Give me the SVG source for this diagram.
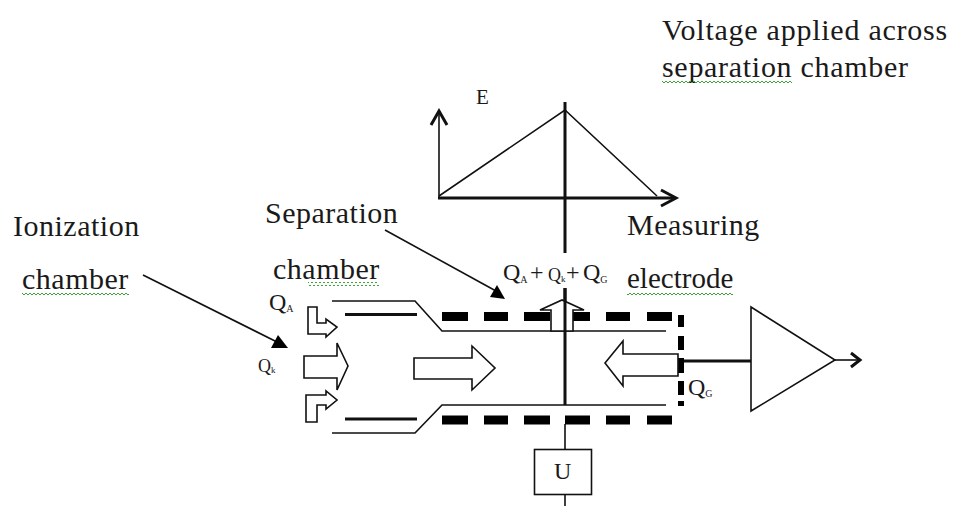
<svg xmlns="http://www.w3.org/2000/svg" width="955" height="506" viewBox="0 0 955 506">
<style>
text{font-family:"Liberation Serif","Times New Roman",serif;fill:#1a1a1a}
.t{font-size:30px;letter-spacing:.5px}
.l{fill:none;stroke:#111;stroke-width:1.6}
.m{fill:none;stroke:#111;stroke-width:3}
.d{fill:none;stroke:#000;stroke-width:9}
.a{fill:#fff;stroke:#111;stroke-width:1.6}
.q{font-size:24px}
.s{font-size:10px}
</style>
<defs>
<pattern id="sq" width="4" height="4" patternUnits="userSpaceOnUse"><path d="M0 3L2 1L4 3" fill="none" stroke="#3aa53a" stroke-width="1"/></pattern>
</defs>
<rect width="955" height="506" fill="#fff"/>
<g id="connectors">
<path class="m" d="M565 102V253M565 288V405"/>
<path class="l" d="M565 424V449M565 494V506"/>
<path class="l" d="M143 275L277 342"/>
<polygon points="278,335 271,348 288,348" fill="#000"/>
<path class="l" d="M385 230L496 291"/>
<polygon points="505,299 490,297 497,285" fill="#000"/>
<path class="m" d="M680 361H752"/>
<path class="l" d="M835 360H860"/>
<path class="m" d="M851 353L860 360L851 367" fill="none"/>
</g>
<g id="chart">
<path class="l" d="M439 197V111"/>
<path class="m" d="M431 125L439 111L447 125"/>
<path class="m" d="M438 198H674"/>
<path class="m" d="M661 190L676 198L661 206"/>
<path class="l" d="M439 196L565 110L657 196"/>
</g>
<g id="ionization-chamber">
<path class="l" d="M332 301H415L442 331H666"/>
<path class="l" d="M332 433H415L442 405H666"/>
<path class="m" d="M345 314.500H417M345 419H417"/>
</g>
<g id="separation-electrodes">
<path class="d" d="M442 316.500H468M484 316.500H508M524 316.500H550M565 316.500H590M606 316.500H630M647 316.500H672"/>
<path class="d" d="M442 420H468M484 420H508M524 420H550M565 420H590M606 420H630M647 420H672"/>
<path d="M681 315V327M681 336V350M681 358V373M681 381V395M681 401V406" fill="none" stroke="#000" stroke-width="6"/>
</g>
<g id="ion-arrows">
<polygon class="a" points="308,307 317,307 317,323 326,323 326,319 337,327 326,337 326,334 308,334"/>
<polygon class="a" points="304,356 337,356 337,343 348,366 337,390 337,378 304,378"/>
<polygon class="a" points="306,395 326,395 326,391 337,400 326,409 326,405 317,405 317,422 306,422"/>
<polygon class="a" points="414,358 472,358 472,346 495,368 472,390 472,379 414,379"/>
<polygon class="a" points="551,331 551,310 540,310 562,300 584,310 573,310 573,331"/>
<polygon class="a" points="678,354 623,354 623,341 605,363 623,386 623,376 678,376"/>
<path class="m" d="M565 288V331"/>
</g>
<g id="amplifier"><polygon points="751,307 835,360 751,411" fill="#fff" stroke="#111" stroke-width="1.600"/></g>
<g id="voltage-source">
<rect x="534.500" y="449.500" width="57" height="45" fill="#fff" stroke="#111" stroke-width="1.600"/>
<text x="554" y="479" style="font-size:24px">U</text>
</g>
<g id="labels">
<text class="t" x="662" y="40" style="letter-spacing:.75px">Voltage applied across</text>
<text class="t" x="662" y="77" style="letter-spacing:.7px">separation chamber</text>
<rect x="662" y="81" width="130" height="4" fill="url(#sq)"/>
<text x="476" y="104" style="font-size:21px">E</text>
<text class="t" x="13" y="236">Ionization</text>
<text class="t" x="22" y="289">chamber</text>
<rect x="22" y="292" width="107" height="4" fill="url(#sq)"/>
<text class="t" x="265" y="223">Separation</text>
<text class="t" x="273" y="279">chamber</text>
<rect x="308" y="282" width="71" height="4" fill="url(#sq)"/>
<text class="t" x="627" y="235">Measuring</text>
<text class="t" x="627" y="288" style="font-size:29px;letter-spacing:0">electrode</text>
<rect x="627" y="291" width="106" height="4" fill="url(#sq)"/>
<text x="269" y="310" class="q">Q<tspan class="s" dy="2">A</tspan></text>
<text x="258" y="372" style="font-size:18px">Q<tspan style="font-size:9px" dy="1">k</tspan></text>
<text x="503" y="280" class="q">Q<tspan class="s" dy="3">A</tspan></text>
<text x="530" y="280" class="q">+</text>
<text x="548" y="281" style="font-size:18px">Q<tspan style="font-size:9px" dy="1">k</tspan></text>
<text x="566" y="280" class="q">+</text>
<text x="583" y="280" class="q">Q<tspan class="s" dy="3">G</tspan></text>
<text x="688" y="395" class="q">Q<tspan class="s" dy="2">G</tspan></text>
</g>
</svg>
